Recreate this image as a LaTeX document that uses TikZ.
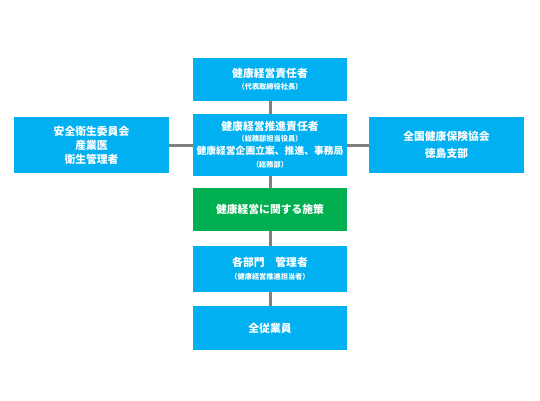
\documentclass[tikz,border=0pt]{standalone}
\usepackage{fontspec}
\setmainfont{Noto Sans CJK JP}
\definecolor{boxblue}{HTML}{00B0F0}
\definecolor{boxgreen}{HTML}{00B050}
\definecolor{linegray}{HTML}{7F7F7F}
\begin{document}
\begin{tikzpicture}[x=1pt,y=-1pt,
  box/.style={fill=boxblue,draw=none,minimum width=154pt,text=white,align=center,inner sep=0pt,font=\bfseries\fontsize{10.8}{13}\selectfont},
  conn/.style={draw=linegray,line width=3pt}]
\useasboundingbox[fill=white] (0,0) rectangle (540,400);
\node[box,minimum height=43pt] (top) at (270,79.5) {健康経営責任者\\[-1pt]{\fontsize{7.2}{8}\selectfont （代表取締役社長）}};
\node[box,minimum height=62pt] (mid) at (270,145) {健康経営推進責任者\\[-2pt]{\fontsize{7.2}{8}\selectfont （総務部担当役員）}\\[0pt]{\fontsize{9.8}{11}\selectfont 健康経営企画立案、推進、事務局}\\[0pt]{\fontsize{7.2}{8}\selectfont （総務部）}};
\node[box,minimum width=155pt,minimum height=56pt] (left) at (91.5,145) {安全衛生委員会\\[1pt]産業医\\[1pt]衛生管理者};
\node[box,minimum width=155pt,minimum height=56pt] (right) at (446.5,145) {全国健康保険協会\\[4pt]徳島支部};
\node[box,fill=boxgreen,minimum height=43pt] (green) at (270,209.5) {健康経営に関する施策};
\node[box,minimum height=46pt] (mgr) at (270,269) {各部門　管理者\\[0pt]{\fontsize{7.2}{8}\selectfont （健康経営推進担当者）}};
\node[box,minimum height=44pt] (all) at (270,328) {全従業員};
\draw[conn] (top.south) -- (mid.north);
\draw[conn] (mid.south) -- (green.north);
\draw[conn] (green.south) -- (mgr.north);
\draw[conn] (mgr.south) -- (all.north);
\draw[conn] (left.east) -- (mid.west);
\draw[conn] (mid.east) -- (right.west);
\end{tikzpicture}
\end{document}
